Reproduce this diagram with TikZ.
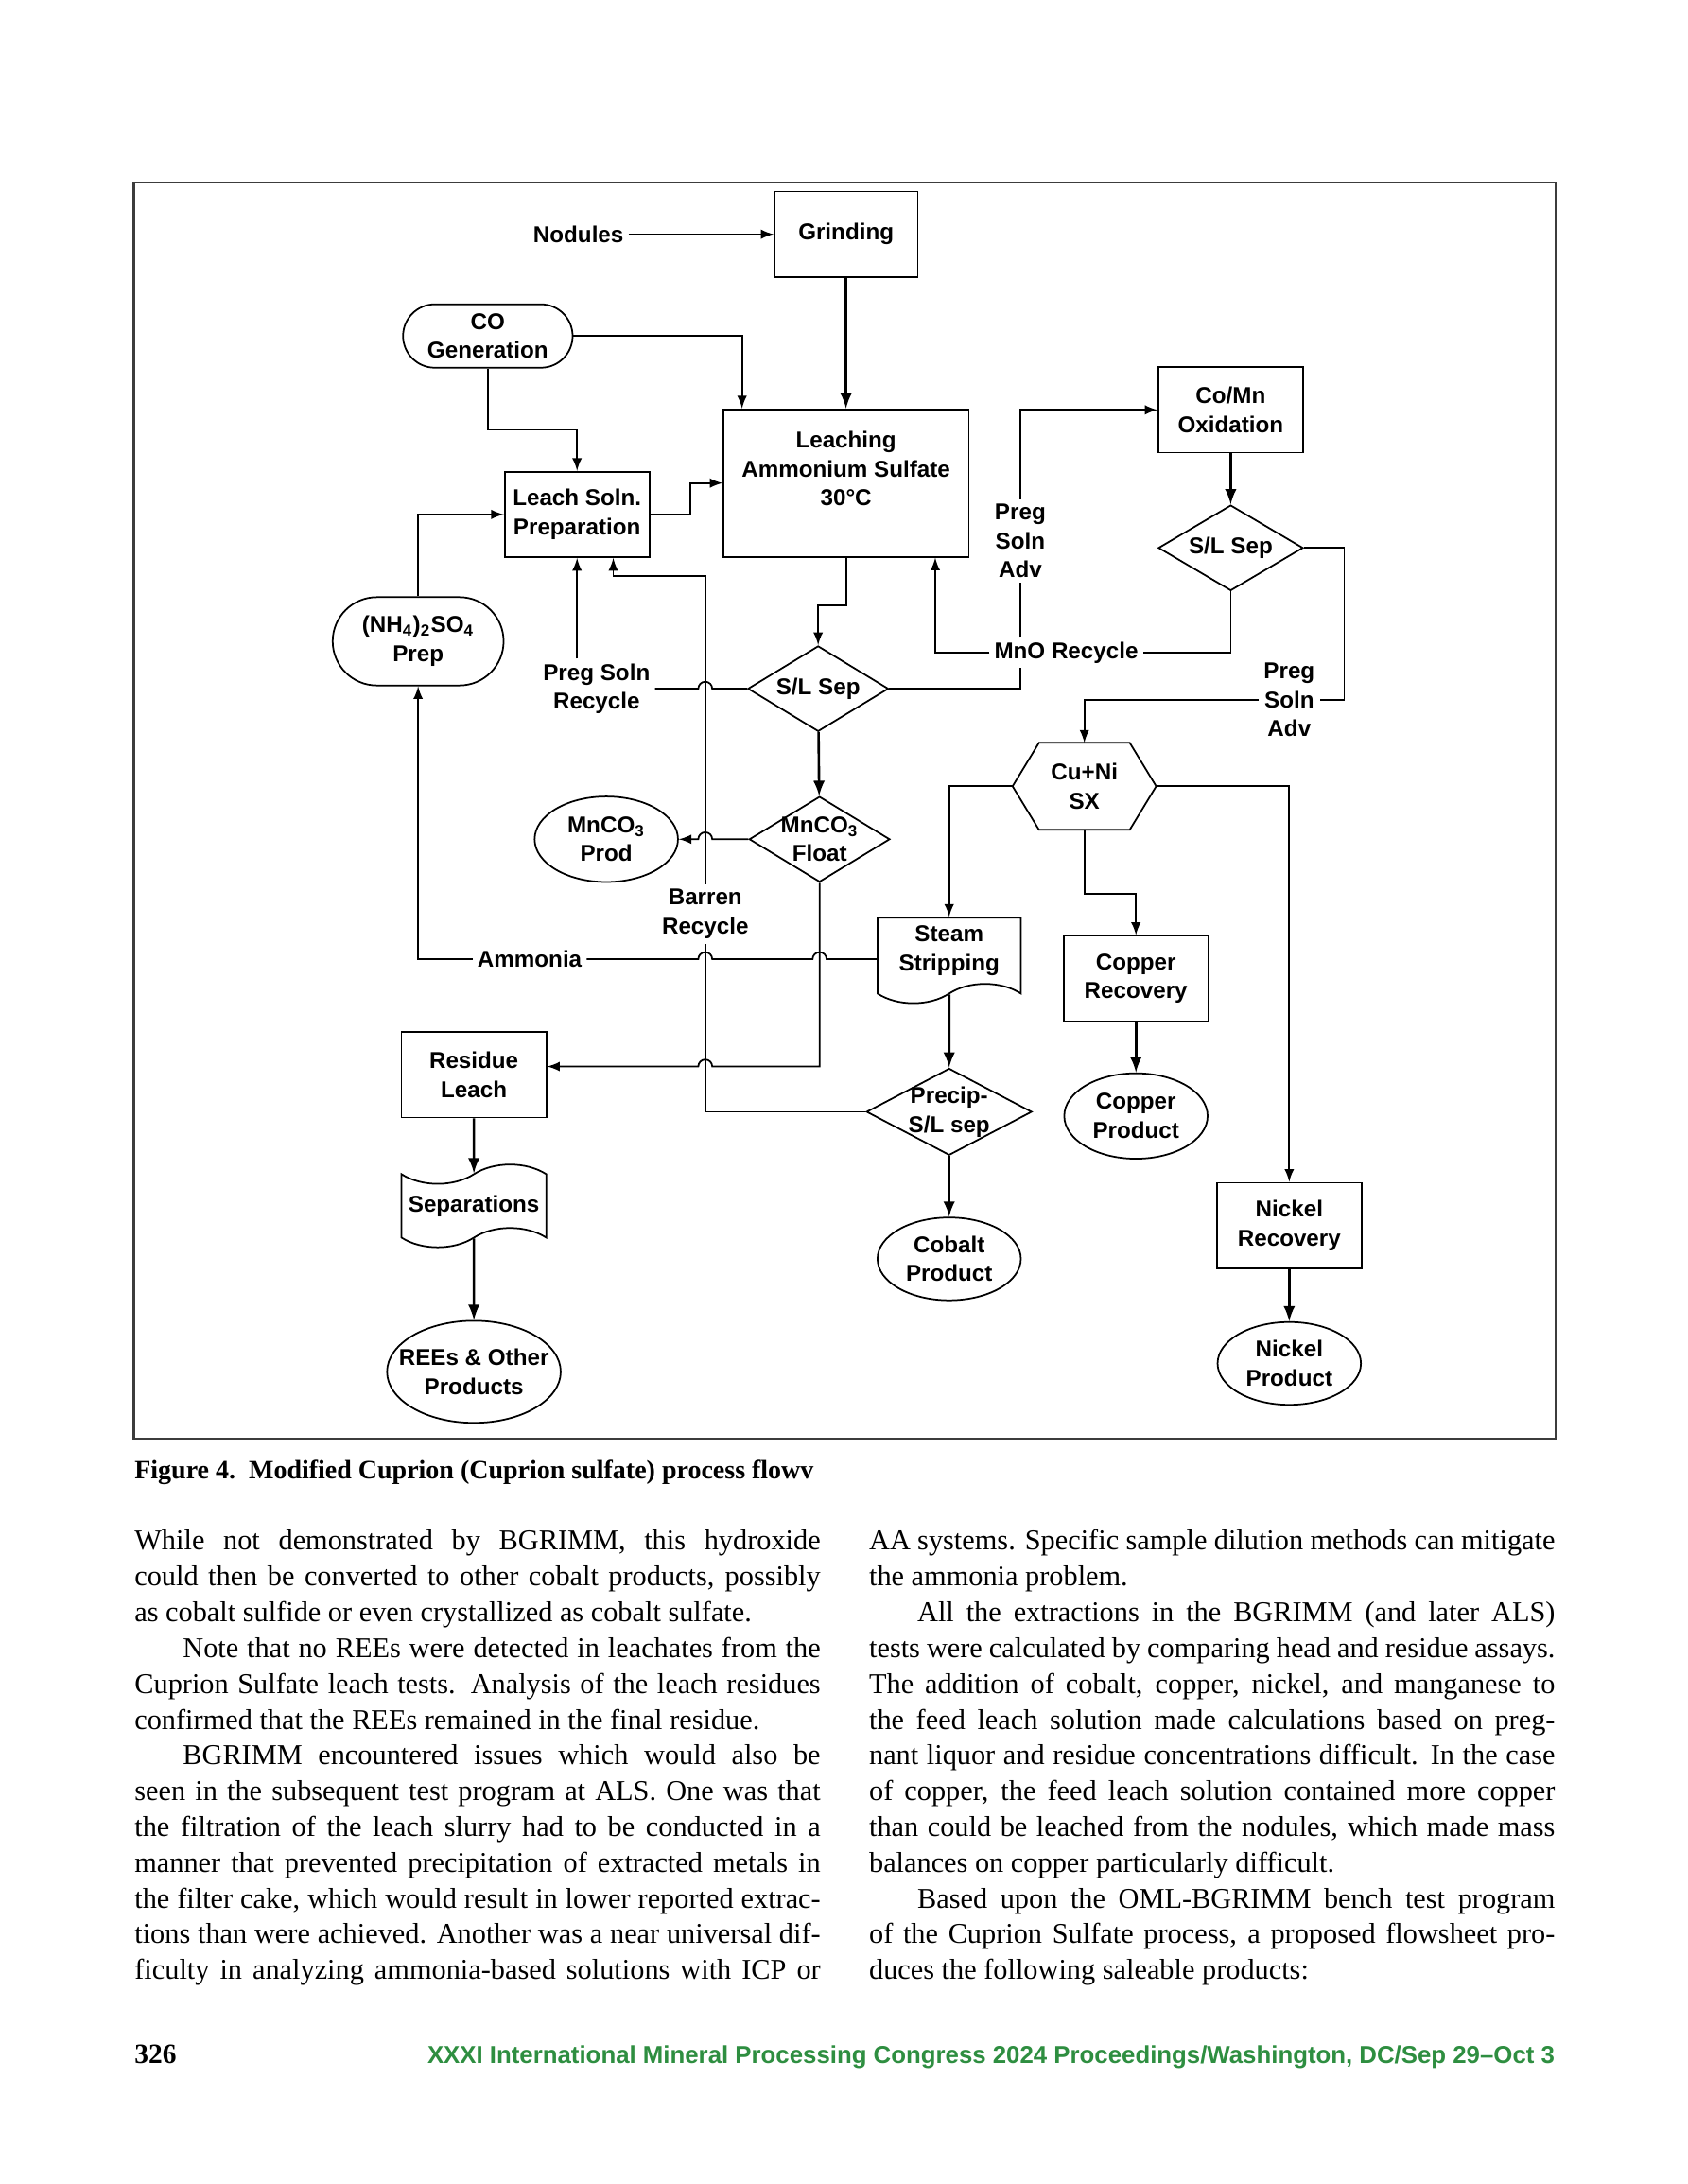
\documentclass[tikz,border=0pt]{standalone}
\usepackage{fontspec}
\setmainfont{Liberation Serif}
\newfontfamily\chartsans{Liberation Sans}
\usetikzlibrary{shapes.geometric,shapes.misc,shapes.symbols,calc}

\definecolor{footgreen}{RGB}{46,142,64}
\definecolor{framegray}{RGB}{60,60,60}

\newcommand{\flowfont}{\chartsans\bfseries\fontsize{8.3}{10.5}\selectfont}
\newcommand{\zw}[1]{\makebox[0pt]{#1}}
\newlength{\colw}
\setlength{\colw}{248.8pt}
\newcommand{\fullline}[1]{\hbox to \colw{#1}}
\newcommand{\shortline}[1]{\hbox{#1}}

\begin{document}
\begin{tikzpicture}[x=0.50555pt, y=-0.50555pt, >=latex, line width=0.6pt]
\tikzset{
  procbox/.style={
    rectangle,
    draw,
    minimum width=52.5pt,
    minimum height=31pt,
    inner sep=1pt,
    align=center,
    font=\flowfont
  },
  termbox/.style={
    rounded rectangle,
    draw,
    minimum width=63.5pt,
    minimum height=23pt,
    inner sep=1pt,
    align=center,
    font=\flowfont
  },
  decision/.style={
    diamond,
    draw,
    minimum width=51pt,
    minimum height=31pt,
    inner sep=0pt,
    align=center,
    font=\flowfont
  },
  product/.style={
    ellipse,
    draw,
    minimum width=52pt,
    minimum height=31pt,
    inner sep=0pt,
    align=center,
    font=\flowfont
  },
  hexbox/.style={
    rectangle,
    minimum width=51.5pt,
    minimum height=31pt,
    inner sep=0pt,
    align=center,
    font=\flowfont
  },
  docbox/.style={
    tape,
    draw,
    tape bend top=none,
    tape bend height=7pt,
    minimum width=52pt,
    minimum height=31pt,
    inner sep=1pt,
    align=center,
    font=\flowfont
  },
  tapebox/.style={
    tape,
    draw,
    tape bend height=7pt,
    minimum width=52.5pt,
    minimum height=30pt,
    inner sep=1pt,
    align=center,
    font=\flowfont
  },
  flowlabel/.style={
    inner sep=1.5pt,
    align=center,
    font=\flowfont
  },
  mainflow/.style={->, line width=0.9pt},
  bodytext/.style={
    anchor=base west,
    inner sep=0pt,
    font=\fontsize{10.4}{12.97}\selectfont
  }
}

% page and frame
\fill[white] (0,0) rectangle (1210.56,1566.61);
\useasboundingbox (0,0) rectangle (1210.56,1566.61);
\draw[framegray, line width=0.8pt] (96,131) rectangle (1116,1032);

% process steps
\node[flowlabel] (nodules) at (415,168) {Nodules};
\node[procbox, minimum width=52pt] (grind) at (607,168) {Grinding};
\node[termbox] (cogen) at (350,241) {CO\\Generation};
\node[procbox, minimum width=89pt, minimum height=53.5pt] (leach) at (607,346.5) {Leaching\\Ammonium Sulfate\\30°C\\\mbox{}};
\node[procbox] (lsoln) at (414,369) {Leach Soln.\\Preparation};
\node[termbox, minimum width=64pt, minimum height=32pt] (nh4) at (300,460) {(NH\textsubscript{4})\textsubscript{2}SO\textsubscript{4}\\Prep};
\node[flowlabel] (pregrec) at (428,494) {Preg Soln\\Recycle};
\node[decision] (slsep) at (587,494) {\zw{S/L Sep}};
\node[procbox] (comn) at (883,294) {Co/Mn\\Oxidation};
\node[decision, minimum width=52.5pt] (slsep2) at (883,393) {\zw{S/L Sep}};
\node[flowlabel] (pregadv) at (732,388) {Preg\\Soln\\Adv};
\node[flowlabel] (mnorec) at (765,468) {MnO Recycle};
\node[flowlabel] (pregadv2) at (925,502) {Preg\\Soln\\Adv};
\node[hexbox] (cuni) at (778,564) {Cu+Ni\\SX};
\node[decision] (mnfloat) at (588,602) {\zw{MnCO\textsubscript{3}}\\\zw{Float}};
\node[product] (mnprod) at (435,602) {MnCO\textsubscript{3}\\Prod};
\node[flowlabel] (barren) at (506,655.5) {Barren\\Recycle};
\node[flowlabel] (ammonia) at (380,688) {Ammonia};
\node[docbox] (steam) at (681,682) {Steam\\Stripping};
\node[procbox] (cuprec) at (815,702) {Copper\\Recovery};
\node[product] (cuprod) at (815,800.5) {Copper\\Product};
\node[procbox] (residue) at (340,771) {Residue\\Leach};
\node[decision, minimum width=60pt, minimum height=31.5pt] (precip) at (681,797.5) {\zw{Precip-}\\\zw{S/L sep}};
\node[product, minimum height=30pt] (cobalt) at (681,903) {Cobalt\\Product};
\node[tapebox] (sep) at (340,865) {Separations};
\node[product, minimum width=63pt, minimum height=37pt] (rees) at (340,984) {\zw{REEs \& Other}\\\zw{Products}};
\node[procbox] (nirec) at (925,879) {Nickel\\Recovery};
\node[product, minimum height=30pt] (niprod) at (925,978) {Nickel\\Product};

% hexagon outline of the SX step
\draw ($(cuni.north west)+(19,0)$) -- ($(cuni.north east)+(-19,0)$) -- (cuni.east)
  -- ($(cuni.south east)+(-19,0)$) -- ($(cuni.south west)+(19,0)$) -- (cuni.west) -- cycle;

% feed and leach circuit
\draw[->] (nodules) -- (grind);
\draw[mainflow] (grind) -- (leach);
\draw[->] (cogen.east) -| ($(leach.north west)+(14,0)$);
\draw[->] (cogen.south) -- ++(0,44) -| (lsoln.north);
\draw[->] (lsoln.east) -- ++(29,0) |- (leach.west);
\draw[->] (nh4.north) |- (lsoln.west);
\draw[->] (leach.south) -- ++(0,34) -| (slsep.north);

% recycles (with jumps over the barren line)
\draw (slsep.west) -- ($(barren.center |- slsep.west)+(5,0)$) arc (0:-180:5) -- (pregrec.east |- slsep.west);
\draw[->] (lsoln.south |- pregrec.north) -- (lsoln.south);
\draw (precip.west) -| (barren.south);
\draw[->] (barren.north) |- ($(lsoln.south)+(26,13)$) -- ($(lsoln.south)+(26,0)$);

% Co/Mn branch
\draw (slsep.east) -| (pregadv.center |- mnorec.south);
\draw (pregadv.center |- mnorec.north) -- (pregadv.south);
\draw[->] (pregadv.north) |- (comn.west);
\draw[mainflow] (comn) -- (slsep2);
\draw (slsep2.south) |- (mnorec.east);
\draw[->] (mnorec.west) -| ($(leach.south)+(64,0)$);
\draw (slsep2.east) -- ++(29,0) |- (pregadv2.east);
\draw[->] (pregadv2.west) -| (cuni.north);

% Cu+Ni SX outputs
\draw[->] (cuni.west) -| (steam.north);
\draw[->] (cuni.south) -- ++(0,46) -| (cuprec.north);
\draw[->] (cuni.east) -| (nirec.north);

% MnCO3 float
\draw[mainflow] (slsep) -- (mnfloat);
\draw[->] (mnfloat.west) -- ($(barren.center |- mnfloat.west)+(5,0)$) arc (0:-180:5) -- (mnprod.east);
\draw[->] (mnfloat.south) |- ($(barren.center |- residue.east)+(5,-6)$) arc (0:-180:5) -- ($(residue.east)+(0,-6)$);

% ammonia return
\draw (steam.west |- ammonia) -- ($(mnfloat.south |- ammonia)+(5,0)$) arc (0:-180:5) -- ($(barren.center |- ammonia)+(5,0)$) arc (0:-180:5) -- (ammonia.east);
\draw[->] (ammonia.west) -| (nh4.south);

% products
\draw[mainflow] (steam) -- (precip);
\draw[mainflow] (precip) -- (cobalt);
\draw[mainflow] (cuprec) -- (cuprod);
\draw[mainflow] (nirec) -- (niprod);
\draw[mainflow] (residue) -- (sep);
\draw[mainflow] (sep) -- (rees);

% caption, text and footer
\node[anchor=base west, inner sep=0pt, font=\bfseries\fontsize{9.6}{11}\selectfont] (caption) at (96,1061) {Figure 4.\hspace{0.5em}Modified Cuprion (Cuprion sulfate) process flowv};

\node[bodytext] (leftcol) at (96,1112) {\vtop{%
\fullline{While not demonstrated by BGRIMM, this hydroxide}
\fullline{could then be converted to other cobalt products, possibly}
\shortline{as cobalt sulfide or even crystallized as cobalt sulfate.}
\fullline{\kern17.5pt Note that no REEs were detected in leachates from the}
\fullline{Cuprion Sulfate leach tests. Analysis of the leach residues}
\shortline{confirmed that the REEs remained in the final residue.}
\fullline{\kern17.5pt BGRIMM encountered issues which would also be}
\fullline{seen in the subsequent test program at ALS. One was that}
\fullline{the filtration of the leach slurry had to be conducted in a}
\fullline{manner that prevented precipitation of extracted metals in}
\fullline{the filter cake, which would result in lower reported extrac-}
\fullline{tions than were achieved. Another was a near universal dif-}
\fullline{ficulty in analyzing ammonia-based solutions with ICP or}}};

\node[bodytext] (rightcol) at (623,1112) {\vtop{%
\fullline{AA systems. Specific sample dilution methods can mitigate}
\shortline{the ammonia problem.}
\fullline{\kern17.5pt All the extractions in the BGRIMM (and later ALS)}
\fullline{tests were calculated by comparing head and residue assays.}
\fullline{The addition of cobalt, copper, nickel, and manganese to}
\fullline{the feed leach solution made calculations based on preg-}
\fullline{nant liquor and residue concentrations difficult. In the case}
\fullline{of copper, the feed leach solution contained more copper}
\fullline{than could be leached from the nodules, which made mass}
\shortline{balances on copper particularly difficult.}
\fullline{\kern17.5pt Based upon the OML-BGRIMM bench test program}
\fullline{of the Cuprion Sulfate process, a proposed flowsheet pro-}
\shortline{duces the following saleable products:}}};

\node[anchor=base west, inner sep=0pt, font=\bfseries\fontsize{10.1}{12}\selectfont] (pagenum) at (96,1480) {326};
\node[anchor=base east, inner sep=0pt, text=footgreen, font=\chartsans\bfseries\fontsize{8.85}{10}\selectfont] (footer) at (1116,1480) {XXXI International Mineral Processing Congress 2024 Proceedings/Washington, DC/Sep 29–Oct 3};
\end{tikzpicture}
\end{document}
